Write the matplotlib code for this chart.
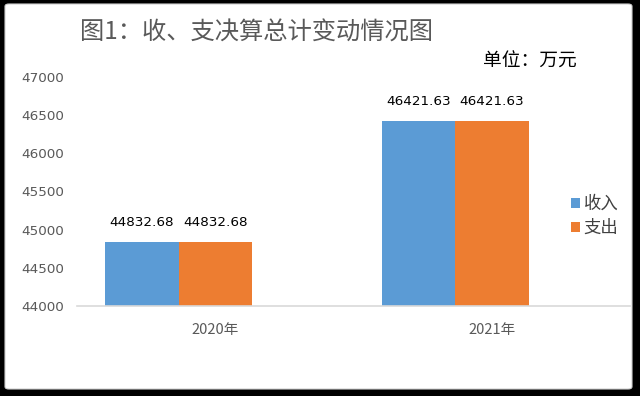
import numpy as np
import matplotlib
matplotlib.use('Agg')
import matplotlib.pyplot as plt
from matplotlib.patches import FancyBboxPatch

plt.rcParams['font.family'] = ['Noto Sans CJK SC', 'DejaVu Sans']

# 数据
years = ['2020年', '2021年']
income = [44832.68, 46421.63]
expense = [44832.68, 46421.63]
series_names = ['收入', '支出']
yticks = [44000, 44500, 45000, 45500, 46000, 46500, 47000]

fig = plt.figure(figsize=(6.4, 3.96), dpi=100, facecolor='black')

# 白色圆角背景
bg = FancyBboxPatch((5 / 640, 7 / 396), 627 / 640, 385 / 396,
                    boxstyle='round,pad=0,rounding_size=0.006',
                    transform=fig.transFigure, facecolor='white',
                    edgecolor='#d0d0d0', linewidth=0.8, zorder=-5)
fig.patches.append(bg)

ax = fig.add_axes([77 / 640, 90 / 396, 553 / 640, 229 / 396])
ax.set_facecolor('none')
ax.set_zorder(2)

x = np.arange(len(years))
w = 0.266
shift = -0.132
b1 = ax.bar(x + shift - w / 2, income, width=w, color='#5B9BD5', label=series_names[0])
b2 = ax.bar(x + shift + w / 2, expense, width=w, color='#ED7D31', label=series_names[1])

for bars in (b1, b2):
    for r in bars:
        ax.text(r.get_x() + r.get_width() / 2, r.get_height() + 260,
                '%.2f' % r.get_height(), ha='center', va='center',
                fontsize=9.7, color='black', family='DejaVu Sans')

ax.set_xlim(-0.5, 1.5)
ax.set_ylim(44000, 47000)
ax.set_yticks(yticks)
ax.set_yticklabels([str(v) for v in yticks], fontsize=9.7, color='#595959',
                   family='DejaVu Sans')
ax.set_xticks(x)
ax.set_xticklabels(years, fontsize=10.5, color='#595959')
ax.tick_params(axis='both', length=0)
ax.tick_params(axis='y', pad=9)
ax.tick_params(axis='x', pad=12)

for s in ['top', 'right', 'left']:
    ax.spines[s].set_visible(False)
ax.spines['bottom'].set_color('#d9d9d9')
ax.spines['bottom'].set_linewidth(1.2)

fig.text(80 / 640, 1 - 33 / 396, '图1：收、支决算总计变动情况图', fontsize=17.5,
         color='#595959', ha='left', va='center')
fig.text(483 / 640, 1 - 61 / 396, '单位：万元', fontsize=13.5,
         color='black', ha='left', va='center')

leg = fig.legend(handles=[b1, b2], labels=series_names, loc='center left',
                 bbox_to_anchor=(555 / 640, 1 - 216 / 396), frameon=False,
                 fontsize=12.5, handlelength=0.55, handleheight=0.55,
                 handletextpad=0.2, labelspacing=0.35, labelcolor='#404040')
leg.set_zorder(3)

fig.savefig('out.png', dpi=100, facecolor='black')
